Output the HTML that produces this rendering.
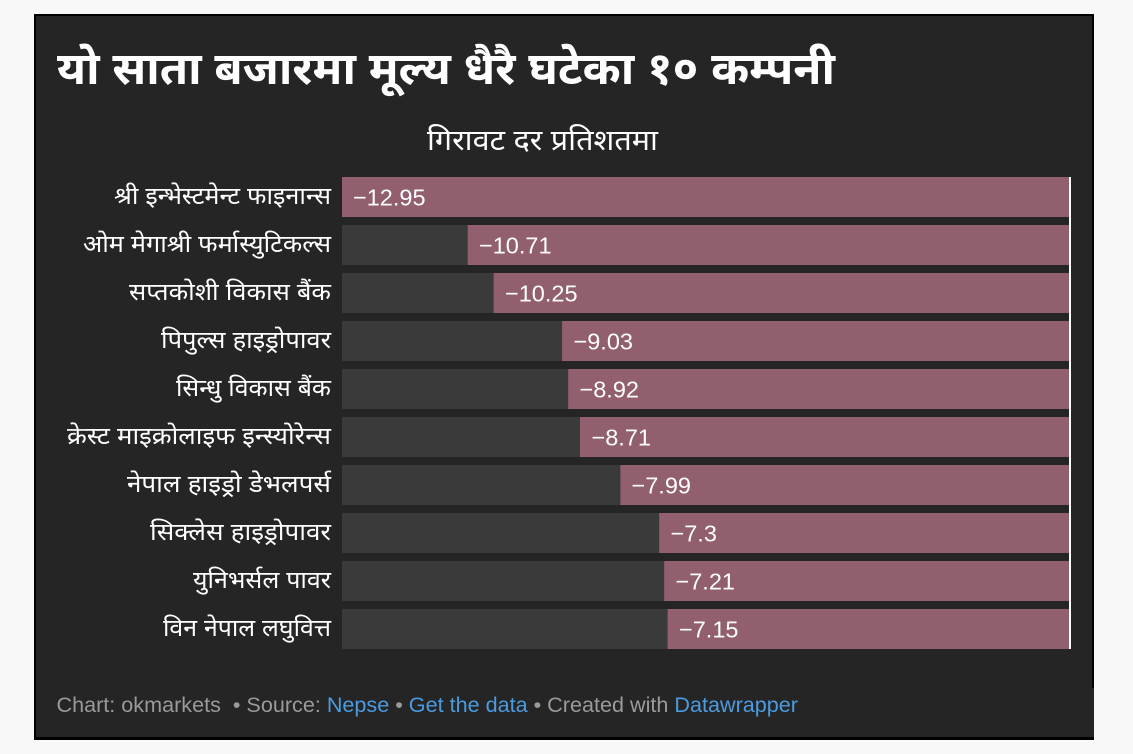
<!DOCTYPE html>
<html>
<head>
<meta charset="utf-8">
<style>
  html,body{margin:0;padding:0;background:#f8f8f8;}
  body{width:1133px;height:754px;overflow:hidden;}
  svg{display:block;}
  .dev{font-family:"Liberation Sans","Noto Sans Devanagari","Lohit Devanagari","Mukta","FreeSans",sans-serif;}
  .lat{font-family:"Liberation Sans","DejaVu Sans",sans-serif;}
</style>
</head>
<body>
<svg width="1133" height="754" viewBox="0 0 1133 754" xmlns="http://www.w3.org/2000/svg">
  <rect x="0" y="0" width="1133" height="754" fill="#f8f8f8"/>
  <!-- box -->
  <rect x="34" y="14" width="1060" height="726" fill="#000"/>
  <rect x="36" y="16" width="1056" height="721" fill="#252525"/>
  <rect x="1092" y="688" width="2" height="49" fill="#252525"/>

  <!-- title -->
  <text class="dev" x="57" y="84" font-size="45" font-weight="bold" fill="#ffffff" textLength="778" lengthAdjust="spacingAndGlyphs">यो साता बजारमा मूल्य धैरै घटेका १० कम्पनी</text>
  <!-- subtitle -->
  <text class="dev" x="542.5" y="150" font-size="29" fill="#ffffff" text-anchor="middle" textLength="231" lengthAdjust="spacingAndGlyphs">गिरावट दर प्रतिशतमा</text>

  <!-- tracks -->
  <g fill="#3a3a3a">
    <rect x="342" y="177" width="727" height="40"/>
    <rect x="342" y="225" width="727" height="40"/>
    <rect x="342" y="273" width="727" height="40"/>
    <rect x="342" y="321" width="727" height="40"/>
    <rect x="342" y="369" width="727" height="40"/>
    <rect x="342" y="417" width="727" height="40"/>
    <rect x="342" y="465" width="727" height="40"/>
    <rect x="342" y="513" width="727" height="40"/>
    <rect x="342" y="561" width="727" height="40"/>
    <rect x="342" y="609" width="727" height="40"/>
  </g>
  <!-- bars -->
  <g fill="#915f6d">
    <rect x="342" y="177" width="727" height="40"/>
    <rect x="467.7" y="225" width="601.3" height="40"/>
    <rect x="493.6" y="273" width="575.4" height="40"/>
    <rect x="562.1" y="321" width="506.9" height="40"/>
    <rect x="568.2" y="369" width="500.8" height="40"/>
    <rect x="580" y="417" width="489" height="40"/>
    <rect x="620.4" y="465" width="448.6" height="40"/>
    <rect x="659.2" y="513" width="409.8" height="40"/>
    <rect x="664.2" y="561" width="404.8" height="40"/>
    <rect x="667.6" y="609" width="401.4" height="40"/>
  </g>
  <!-- axis line -->
  <rect x="1069" y="177" width="2" height="472" fill="#ffffff"/>

  <!-- value labels -->
  <g class="lat" font-size="23.5" fill="#ffffff">
    <text x="353" y="205.5">−12.95</text>
    <text x="479" y="253.5">−10.71</text>
    <text x="505" y="301.5">−10.25</text>
    <text x="573.5" y="349.5">−9.03</text>
    <text x="579.5" y="397.5">−8.92</text>
    <text x="591.5" y="445.5">−8.71</text>
    <text x="631.5" y="493.5">−7.99</text>
    <text x="670.5" y="541.5">−7.3</text>
    <text x="675.5" y="589.5">−7.21</text>
    <text x="679" y="637.5">−7.15</text>
  </g>

  <!-- category labels -->
  <g class="dev" font-size="24" fill="#ffffff" text-anchor="end">
    <text x="331" y="204" textLength="217" lengthAdjust="spacingAndGlyphs">श्री इन्भेस्टमेन्ट फाइनान्स</text>
    <text x="331" y="252" textLength="248" lengthAdjust="spacingAndGlyphs">ओम मेगाश्री फर्मास्युटिकल्स</text>
    <text x="331" y="300" textLength="202" lengthAdjust="spacingAndGlyphs">सप्तकोशी विकास बैंक</text>
    <text x="331" y="348" textLength="170" lengthAdjust="spacingAndGlyphs">पिपुल्स हाइड्रोपावर</text>
    <text x="331" y="396" textLength="155" lengthAdjust="spacingAndGlyphs">सिन्धु विकास बैंक</text>
    <text x="331" y="444" textLength="264" lengthAdjust="spacingAndGlyphs">क्रेस्ट माइक्रोलाइफ इन्स्योरेन्स</text>
    <text x="331" y="492" textLength="204" lengthAdjust="spacingAndGlyphs">नेपाल हाइड्रो डेभलपर्स</text>
    <text x="331" y="540" textLength="181" lengthAdjust="spacingAndGlyphs">सिक्लेस हाइड्रोपावर</text>
    <text x="331" y="588" textLength="138" lengthAdjust="spacingAndGlyphs">युनिभर्सल पावर</text>
    <text x="331" y="636" textLength="168" lengthAdjust="spacingAndGlyphs">विन नेपाल लघुवित्त</text>
  </g>

  <!-- footer -->
  <text class="lat" x="56.5" y="712" font-size="21" fill="#9a9a9a" textLength="741.5" lengthAdjust="spacingAndGlyphs">Chart: okmarkets&#160; • Source: <tspan fill="#4a9be0">Nepse</tspan> • <tspan fill="#4a9be0">Get the data</tspan> • Created with <tspan fill="#4a9be0">Datawrapper</tspan></text>
</svg>
</body>
</html>
